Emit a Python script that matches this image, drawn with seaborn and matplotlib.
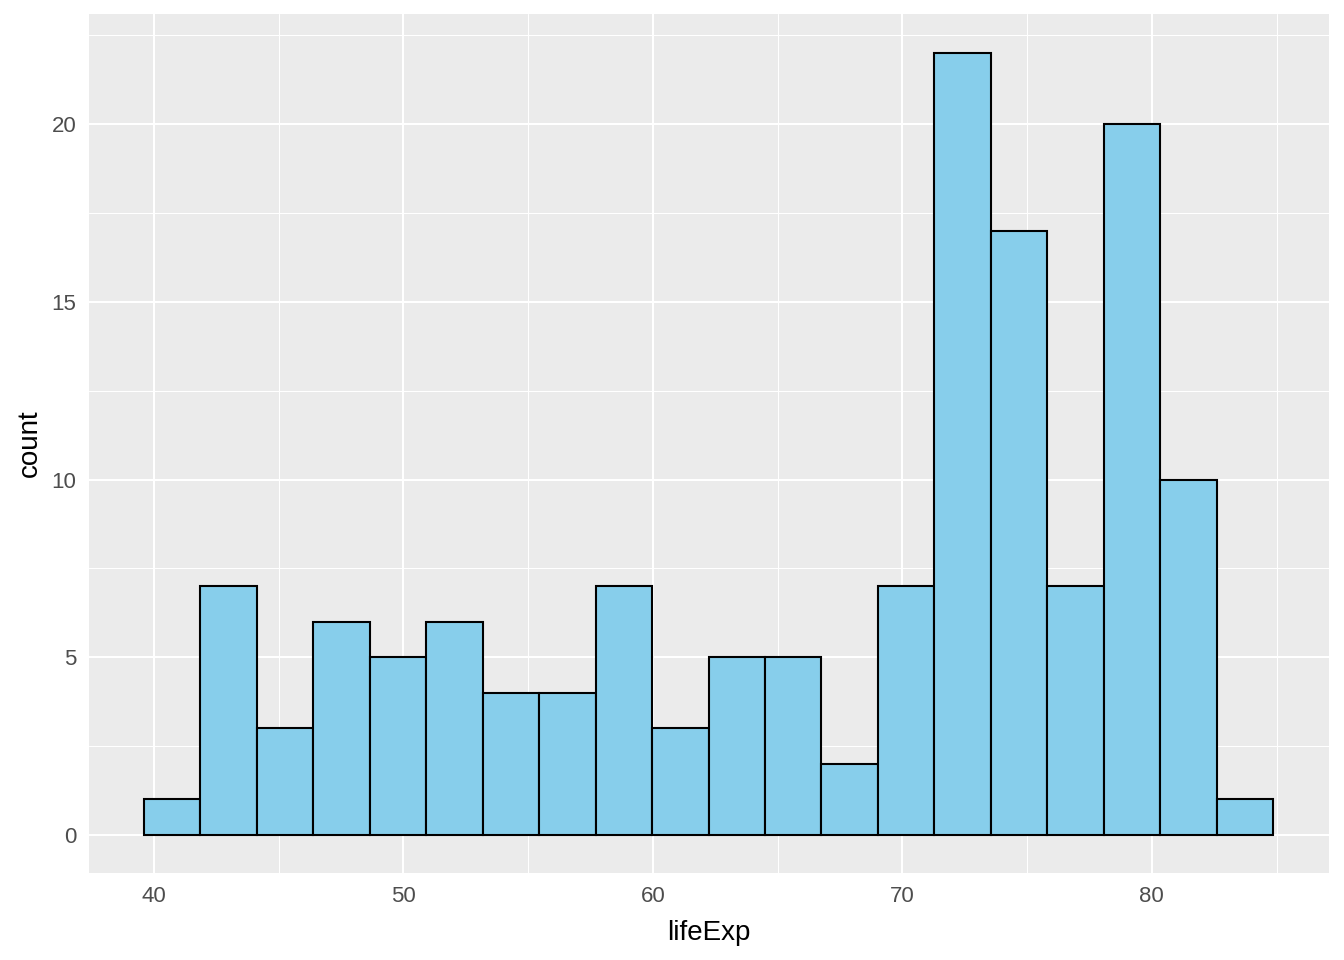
import numpy as np
import pandas as pd
import seaborn as sns
import matplotlib.pyplot as plt

# histogram: 20 bins, width ~2.263
counts = [1, 7, 3, 6, 5, 6, 4, 4, 7, 3, 5, 5, 2, 7, 22, 17, 7, 20, 10, 1]
first_edge = 39.6
bin_width = 2.263

edges = first_edge + bin_width * np.arange(len(counts) + 1)
centers = (edges[:-1] + edges[1:]) / 2
df = pd.DataFrame({"lifeExp": centers, "count": counts})

sns.set_style("darkgrid", {"axes.facecolor": "#EBEBEB", "grid.color": "white"})
plt.rcParams['font.family'] = ['Liberation Sans', 'DejaVu Sans']

fig = plt.figure(figsize=(13.44, 9.6), dpi=100)
ax = fig.add_axes([89 / 1344, 1 - 873 / 960, (1329 - 89) / 1344, (873 - 14) / 960])

sns.histplot(data=df, x="lifeExp", weights="count",
             binwidth=bin_width, binrange=(edges[0], edges[-1]),
             color="#87CEEB", edgecolor="black", linewidth=1.5, alpha=1, ax=ax)

ax.set_xlim(37.4, 87.1)
ax.set_ylim(-1.07, 23.1)
ax.set_xticks([40, 50, 60, 70, 80])
ax.set_yticks([0, 5, 10, 15, 20])
ax.set_xticks([45, 55, 65, 75, 85], minor=True)
ax.set_yticks([2.5, 7.5, 12.5, 17.5, 22.5], minor=True)
ax.grid(which="major", color="white", linewidth=1.5)
ax.grid(which="minor", color="white", linewidth=0.75)
ax.set_axisbelow(True)
for s in ax.spines.values():
    s.set_visible(False)
ax.tick_params(which="major", length=5, width=1.5, color="#333333",
               labelsize=16, labelcolor="#4D4D4D", pad=4)
ax.tick_params(which="minor", length=0)
ax.set_xlabel("lifeExp", fontsize=20, color="black", labelpad=10)
ax.set_ylabel("count", fontsize=20, color="black", labelpad=6)

fig.savefig("out.png", dpi=100)
